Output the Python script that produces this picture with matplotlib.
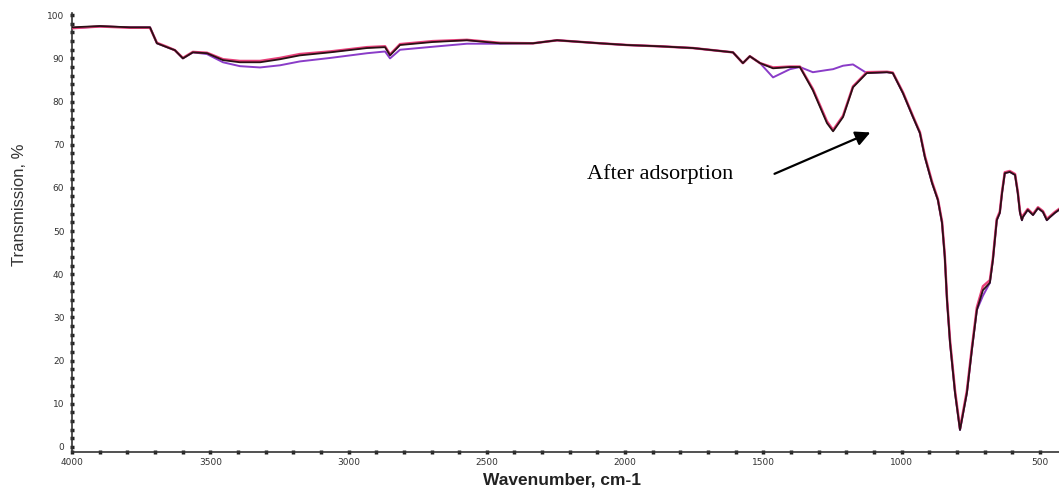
import matplotlib
matplotlib.use("Agg")
import matplotlib.pyplot as plt
from matplotlib.ticker import MultipleLocator

# FTIR spectra: wavenumber (cm-1) and transmission (%)
wavenumber = [4000, 3899, 3790, 3718, 3693, 3657, 3628, 3599, 3563, 3512,
              3454, 3393, 3320, 3248, 3176, 3067, 2933, 2868, 2850, 2814,
              2695, 2572, 2452, 2333, 2246, 2091, 1993, 1874, 1755, 1610,
              1574, 1549, 1512, 1465, 1404, 1368, 1321, 1270, 1248, 1212,
              1176, 1126, 1053, 1032, 995, 959, 934, 916, 890, 869,
              854, 844, 836, 825, 807, 789, 764, 746, 728, 706,
              681, 670, 656, 645, 637, 627, 609, 590, 580, 572,
              565, 562, 544, 525, 507, 489, 475, 464, 446, 431]

t_after = [97.2, 97.5, 97.2, 97.2, 93.5, 92.6, 91.9, 90.0, 91.4, 91.2,
           89.6, 89.1, 89.1, 89.8, 90.7, 91.4, 92.4, 92.6, 90.7, 93.1,
           93.8, 94.2, 93.5, 93.5, 94.2, 93.5, 93.1, 92.8, 92.4, 91.4,
           88.9, 90.5, 88.9, 87.7, 88.0, 88.0, 82.6, 75.0, 73.1, 76.4,
           83.3, 86.6, 86.8, 86.6, 81.9, 76.4, 72.7, 67.1, 61.1, 57.2,
           51.9, 44.0, 34.0, 24.1, 12.5, 3.9, 12.5, 22.5, 31.7, 36.3,
           38.0, 43.3, 52.5, 54.2, 58.8, 63.4, 63.7, 63.0, 58.8, 54.2,
           52.5, 53.2, 54.9, 53.7, 55.3, 54.4, 52.5, 53.2, 54.2, 54.9]

t_after_rep = [97.0, 97.4, 97.1, 97.1, 93.6, 92.7, 91.9, 90.1, 91.5, 91.3,
               89.8, 89.4, 89.4, 90.1, 91.0, 91.6, 92.6, 92.8, 90.9, 93.3,
               94.0, 94.3, 93.6, 93.5, 94.2, 93.5, 93.1, 92.8, 92.4, 91.4,
               88.9, 90.5, 88.9, 87.9, 88.1, 88.1, 82.9, 75.4, 73.4, 76.7,
               83.5, 86.8, 86.9, 86.7, 82.1, 76.6, 72.9, 67.4, 61.4, 57.4,
               52.2, 44.4, 34.4, 24.6, 13.0, 4.2, 13.0, 23.0, 32.3, 37.2,
               38.6, 43.7, 52.8, 54.5, 59.1, 63.6, 63.9, 63.2, 59.1, 54.5,
               52.8, 53.5, 55.1, 53.9, 55.5, 54.6, 52.8, 53.4, 54.4, 55.1]

t_before = [97.0, 97.4, 97.2, 97.2, 93.5, 92.6, 91.9, 90.0, 91.4, 91.0,
            89.1, 88.2, 87.9, 88.4, 89.3, 90.1, 91.2, 91.6, 90.0, 92.0,
            92.7, 93.4, 93.4, 93.5, 94.2, 93.5, 93.1, 92.8, 92.4, 91.4,
            88.9, 90.5, 88.9, 85.6, 87.5, 88.0, 86.8, 87.3, 87.5, 88.3,
            88.6, 86.6, 86.8, 86.6, 81.9, 76.4, 72.7, 67.1, 61.1, 57.2,
            51.9, 44.0, 34.0, 24.1, 12.5, 3.9, 12.5, 22.5, 31.7, 35.0,
            38.0, 43.3, 52.5, 54.2, 58.8, 63.4, 63.7, 63.0, 58.8, 54.2,
            52.5, 53.2, 54.9, 53.7, 55.3, 54.4, 52.5, 53.2, 54.2, 54.9]

fig = plt.figure(figsize=(10.59, 5.03), dpi=100)
ax = fig.add_axes([0.068, 0.1014, 0.932, 0.8726])

ax.plot(wavenumber, t_before, color='#8a3cc8', linewidth=1.4, zorder=2)
ax.plot(wavenumber, t_after_rep, color='#e8407a', linewidth=1.8, zorder=3)
ax.plot(wavenumber, t_after, color='#2a1015', linewidth=1.3, zorder=4)

ax.set_xlim(4000, 431)
ax.set_ylim(-1.2, 100.5)

ax.xaxis.set_major_locator(MultipleLocator(500))
ax.xaxis.set_minor_locator(MultipleLocator(100))
ax.yaxis.set_major_locator(MultipleLocator(10))
ax.yaxis.set_minor_locator(MultipleLocator(2))
ax.tick_params(axis='both', which='both', direction='inout', length=3,
               width=2.5, color='#222222', labelsize=6.5, labelcolor='#333333')
ax.tick_params(axis='x', pad=3)
ax.tick_params(axis='y', pad=4)

ax.spines['top'].set_visible(False)
ax.spines['right'].set_visible(False)
ax.spines['left'].set_linewidth(1.2)
ax.spines['bottom'].set_linewidth(1.2)
ax.spines['left'].set_color('#333333')
ax.spines['bottom'].set_color('#333333')

fig.text(0.531, 1 - 480 / 503, "Wavenumber, cm-1", ha='center', va='center',
         fontsize=12.5, fontweight='bold', family='Liberation Sans', color='#222222')
fig.text(20 / 1059, 1 - 205 / 503, "Transmission, %", ha='center', va='center',
         rotation=90, fontsize=12, family='Liberation Sans', color='#333333')

ax.annotate("", xy=(1104, 73.1), xytext=(1469, 63.0),
            arrowprops=dict(arrowstyle='-|>', color='k', lw=1.6, mutation_scale=22))
ax.text(2138, 63.2, "After adsorption", ha='left', va='center',
        fontsize=16, family='Liberation Serif', color='k')

fig.savefig("out.png", dpi=100)
